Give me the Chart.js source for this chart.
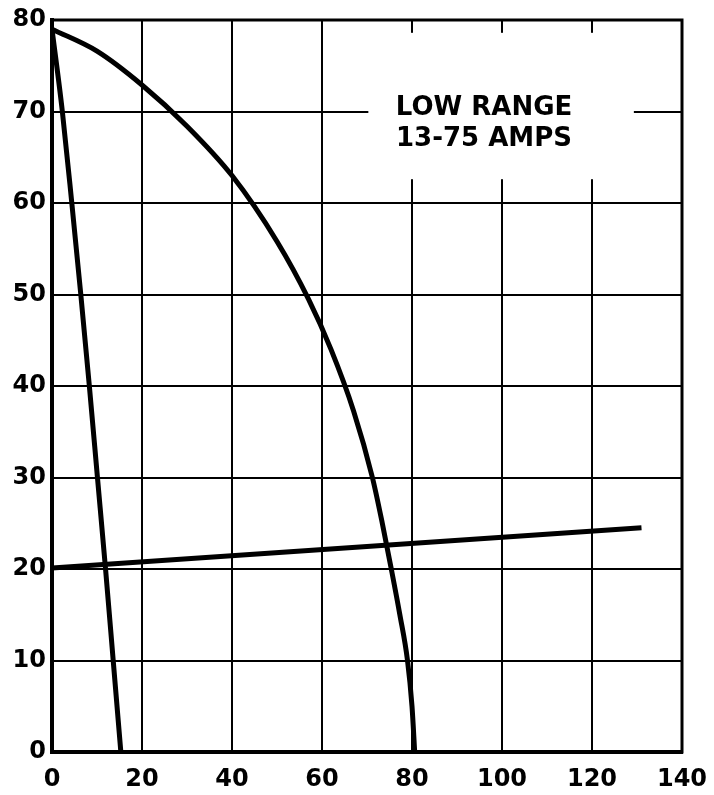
<!DOCTYPE html>
<html>
<head>
<meta charset="utf-8">
<script src="https://cdn.jsdelivr.net/npm/chart.js@4/dist/chart.umd.min.js"></script>
<style>
  html, body { margin: 0; padding: 0; background: #fff; }
  #wrap { width: 714px; height: 795px; position: relative; }
</style>
</head>
<body>
<div id="wrap"><canvas id="c" width="714" height="795"></canvas></div>
<script>
// Tick labels
const xTicks = [0, 20, 40, 60, 80, 100, 120, 140];
const yTicks = [0, 10, 20, 30, 40, 50, 60, 70, 80];

// Steep curve (x values, y values)
const steepX = [0, 2.3, 4.4, 6.4, 8.3, 10.1, 11.9, 13.6, 15.3];
const steepY = [79, 70, 60, 50, 40, 30, 20, 10, 0];

// Broad curve
const broadX = [0, 10, 20, 30, 40, 50, 57, 62, 67, 71.2, 73.4, 75.4, 77.3, 79.0, 80.0, 80.6];
const broadY = [79, 76.6, 72.9, 68.4, 63.0, 55.8, 49.5, 44.0, 37.3, 30, 25, 20, 15, 10, 5, 0];

// Nearly flat line
const flatX = [0, 131];
const flatY = [20.1, 24.5];

const noteLines = ["LOW RANGE", "13-75 AMPS"];

function pts(xs, ys) { return xs.map((x, i) => ({ x: x, y: ys[i] })); }

const FONT = "'DejaVu Sans', sans-serif";

const notePlugin = {
  id: 'note',
  beforeDatasetsDraw(chart) {
    const { ctx, scales: { x, y } } = chart;
    const x0 = x.getPixelForValue(70.3), x1 = x.getPixelForValue(129.3);
    const y0 = y.getPixelForValue(78.6), y1 = y.getPixelForValue(62.6);
    ctx.save();
    ctx.fillStyle = '#fff';
    ctx.fillRect(x0, y0, x1 - x0, y1 - y0);
    ctx.fillStyle = '#000';
    ctx.font = "bold 26px " + FONT;
    ctx.textAlign = 'center';
    ctx.textBaseline = 'middle';
    const cx = x.getPixelForValue(96.0);
    ctx.fillText(noteLines[0], cx, y.getPixelForValue(70.4));
    ctx.fillText(noteLines[1], cx, y.getPixelForValue(67.0));
    ctx.restore();
  },
  afterDatasetsDraw(chart) {
    const { ctx, chartArea: a } = chart;
    ctx.save();
    ctx.strokeStyle = '#000';
    ctx.lineWidth = 3;
    ctx.strokeRect(a.left, a.top, a.right - a.left, a.bottom - a.top);
    ctx.lineWidth = 4;
    ctx.beginPath();
    ctx.moveTo(a.left, a.top);
    ctx.lineTo(a.left, a.bottom);
    ctx.lineTo(a.right, a.bottom);
    ctx.stroke();
    ctx.restore();
  }
};

const lineStyle = {
  showLine: true,
  borderColor: '#000',
  backgroundColor: '#000',
  borderWidth: 5,
  pointRadius: 0,
  fill: false,
  cubicInterpolationMode: 'monotone'
};

new Chart(document.getElementById('c'), {
  type: 'scatter',
  data: {
    datasets: [
      Object.assign({ data: pts(steepX, steepY) }, lineStyle),
      Object.assign({ data: pts(broadX, broadY) }, lineStyle),
      Object.assign({ data: pts(flatX, flatY) }, lineStyle, { cubicInterpolationMode: 'default', tension: 0 })
    ]
  },
  options: {
    responsive: false,
    animation: false,
    layout: { padding: { left: 0, right: 32, top: 20, bottom: 0 } },
    plugins: { legend: { display: false }, tooltip: { enabled: false } },
    scales: {
      x: {
        type: 'linear',
        min: 0, max: 140,
        afterBuildTicks: (s) => { s.ticks = xTicks.map(v => ({ value: v })); },
        afterFit: (s) => { s.height = 43; s.paddingLeft = 0; s.paddingRight = 0; },
        grid: { color: '#000', lineWidth: 2, drawTicks: false },
        border: { color: '#000', width: 4 },
        ticks: { color: '#000', font: { family: FONT, size: 24, weight: 'bold' }, padding: 13, maxRotation: 0, autoSkip: false }
      },
      y: {
        type: 'linear',
        min: 0, max: 80,
        afterBuildTicks: (s) => { s.ticks = yTicks.map(v => ({ value: v })); },
        afterFit: (s) => { s.width = 52; s.paddingTop = 0; s.paddingBottom = 0; },
        grid: { color: '#000', lineWidth: 2, drawTicks: false },
        border: { color: '#000', width: 4 },
        ticks: { color: '#000', font: { family: FONT, size: 24, weight: 'bold' }, padding: 6, autoSkip: false }
      }
    }
  },
  plugins: [notePlugin]
});
</script>
</body>
</html>
